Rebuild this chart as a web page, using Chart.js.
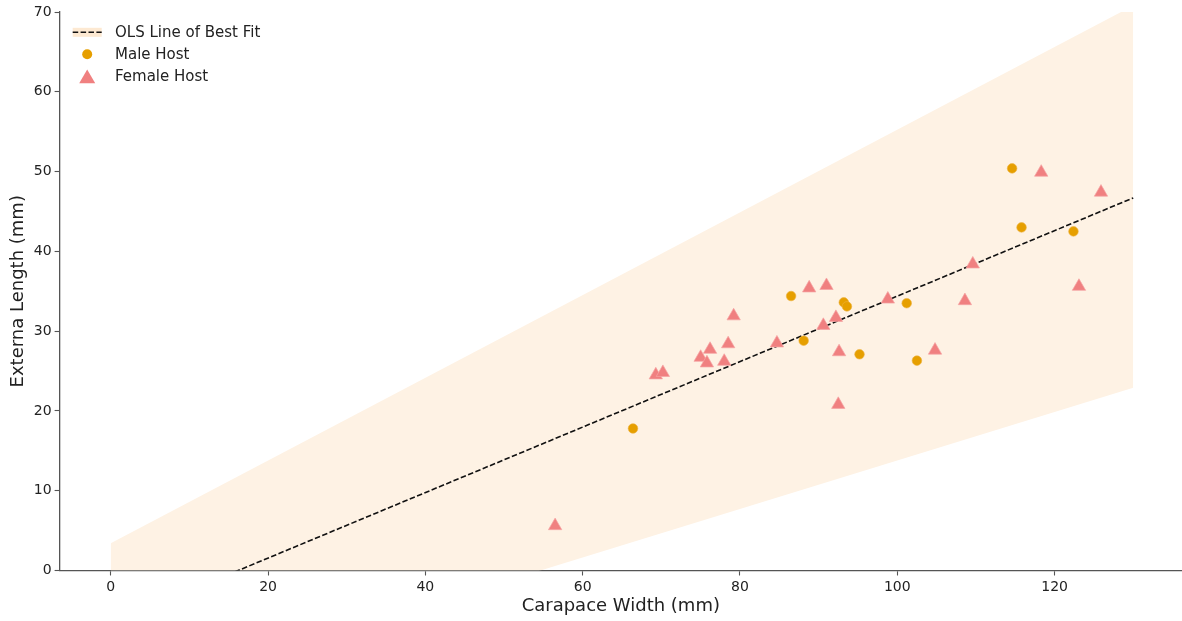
<!DOCTYPE html>
<html>
<head>
<meta charset="utf-8">
<script src="https://cdn.jsdelivr.net/npm/chart.js@4/dist/chart.umd.min.js"></script>
<style>
  html, body { margin: 0; padding: 0; background: #ffffff; overflow: hidden; }
  #wrap { width: 1182px; height: 621px; }
</style>
</head>
<body>
<div id="wrap"><canvas id="c" width="1182" height="621"></canvas></div>
<script>
// ---- data ----
const maleX = [66.4, 86.5, 88.1, 93.2, 93.6, 95.2, 101.2, 102.5, 114.6, 115.8, 122.4];
const maleY = [17.8, 34.4, 28.8, 33.6, 33.1, 27.1, 33.5, 26.3, 50.4, 43.0, 42.5];

const femaleX = [56.5, 69.3, 70.2, 75.0, 75.8, 76.2, 78.0, 78.5, 79.2, 84.7, 88.8, 91.0,
                 90.6, 92.2, 92.6, 92.5, 98.8, 104.8, 108.6, 109.6, 118.3, 123.1, 125.9];
const femaleY = [5.6, 24.5, 24.8, 26.7, 26.0, 27.7, 26.2, 28.4, 31.9, 28.5, 35.4, 35.7,
                 30.7, 31.7, 27.4, 20.8, 34.0, 27.6, 33.8, 38.4, 49.9, 35.6, 47.4];

const olsX = [0, 130];
const olsY = [-6.65, 46.7];

const bandX = [0, 130];
const bandUpper = [3.4, 70.8];
const bandLower = [-16.6, 22.9];

const xTicks = [0, 20, 40, 60, 80, 100, 120];
const yTicks = [0, 10, 20, 30, 40, 50, 60, 70];

const legendLabels = ['OLS Line of Best Fit', 'Male Host', 'Female Host'];
const xTitle = 'Carapace Width (mm)';
const yTitle = 'Externa Length (mm)';

// ---- helpers ----
const pts = (xs, ys) => xs.map((x, i) => ({ x: x, y: ys[i] }));

const FONT = 'DejaVu Sans';
const AXIS_COLOR = '#555555';
const TEXT_COLOR = '#222222';
const MALE_COLOR = '#E69F00';
const FEMALE_COLOR = '#F08080';
const BAND_COLOR = '#FEF2E4';

const legendPlugin = {
  id: 'innerLegend',
  afterDraw(chart) {
    const ctx = chart.ctx;
    ctx.save();
    const hx0 = 72.7, hx1 = 101.7, tx = 115;
    const rows = [32.3, 54.3, 76.8];
    // handle 1: band + dashed line
    ctx.fillStyle = '#FDE9D2';
    ctx.fillRect(hx0, rows[0] - 4.5, hx1 - hx0, 9);
    ctx.strokeStyle = '#111111';
    ctx.lineWidth = 1.5;
    ctx.setLineDash([5.5, 2.4]);
    ctx.beginPath();
    ctx.moveTo(hx0, rows[0]);
    ctx.lineTo(hx1, rows[0]);
    ctx.stroke();
    ctx.setLineDash([]);
    const cx = (hx0 + hx1) / 2;
    // handle 2: circle
    ctx.fillStyle = MALE_COLOR;
    ctx.beginPath();
    ctx.arc(cx, rows[1], 5, 0, Math.PI * 2);
    ctx.fill();
    // handle 3: triangle
    ctx.fillStyle = FEMALE_COLOR;
    ctx.beginPath();
    ctx.moveTo(cx, rows[2] - 7.3);
    ctx.lineTo(cx - 8, rows[2] + 6.5);
    ctx.lineTo(cx + 8, rows[2] + 6.5);
    ctx.closePath();
    ctx.fill();
    // texts
    ctx.fillStyle = TEXT_COLOR;
    ctx.font = '15px "' + FONT + '"';
    ctx.textBaseline = 'middle';
    ctx.textAlign = 'left';
    legendLabels.forEach((t, i) => ctx.fillText(t, tx, rows[i] + 0.5));
    ctx.restore();
  }
};

const commonGrid = {
  drawOnChartArea: false,
  drawTicks: true,
  tickLength: 5,
  color: AXIS_COLOR,
  tickWidth: 1.1
};
const commonBorder = { display: true, color: AXIS_COLOR, width: 1.3 };

new Chart(document.getElementById('c'), {
  type: 'scatter',
  data: {
    datasets: [
      {
        label: legendLabels[2],
        data: pts(femaleX, femaleY),
        pointStyle: 'triangle',
        pointRadius: 7.7,
        backgroundColor: FEMALE_COLOR,
        borderColor: '#F5A3A3',
        borderWidth: 0.7
      },
      {
        label: legendLabels[1],
        data: pts(maleX, maleY),
        pointStyle: 'circle',
        pointRadius: 4.8,
        backgroundColor: MALE_COLOR,
        borderColor: '#EDB240',
        borderWidth: 0.6
      },
      {
        label: legendLabels[0],
        data: pts(olsX, olsY),
        showLine: true,
        borderColor: '#111111',
        borderWidth: 1.6,
        borderDash: [5.5, 2.4],
        pointRadius: 0,
        fill: false
      },
      {
        label: 'upper',
        data: pts(bandX, bandUpper),
        showLine: true,
        borderWidth: 0,
        borderColor: 'rgba(0,0,0,0)',
        backgroundColor: BAND_COLOR,
        pointRadius: 0,
        fill: '+1'
      },
      {
        label: 'lower',
        data: pts(bandX, bandLower),
        showLine: true,
        borderWidth: 0,
        borderColor: 'rgba(0,0,0,0)',
        pointRadius: 0,
        fill: false
      }
    ]
  },
  options: {
    responsive: false,
    animation: false,
    events: [],
    layout: { autoPadding: false, padding: { top: 12, left: 0, right: 0, bottom: 0 } },
    plugins: {
      legend: { display: false },
      tooltip: { enabled: false }
    },
    scales: {
      x: {
        type: 'linear',
        min: -6.5,
        max: 136.2,
        afterBuildTicks: s => { s.ticks = xTicks.map(v => ({ value: v })); },
        afterFit: s => { s.height = 50.5; },
        grid: commonGrid,
        border: commonBorder,
        ticks: {
          font: { family: FONT, size: 14 },
          color: TEXT_COLOR,
          padding: 3,
          maxRotation: 0,
          autoSkip: false
        },
        title: {
          display: true,
          text: xTitle,
          font: { family: FONT, size: 18 },
          color: TEXT_COLOR,
          padding: { top: 2, bottom: 4 }
        }
      },
      y: {
        type: 'linear',
        min: 0,
        max: 70,
        afterBuildTicks: s => { s.ticks = yTicks.map(v => ({ value: v })); },
        afterFit: s => { s.width = 59.6; },
        grid: commonGrid,
        border: commonBorder,
        ticks: {
          font: { family: FONT, size: 14 },
          color: TEXT_COLOR,
          padding: 3,
          autoSkip: false
        },
        title: {
          display: true,
          text: yTitle,
          font: { family: FONT, size: 18 },
          color: TEXT_COLOR,
          padding: { top: 8, bottom: 4 }
        }
      }
    }
  },
  plugins: [legendPlugin]
});
</script>
</body>
</html>
